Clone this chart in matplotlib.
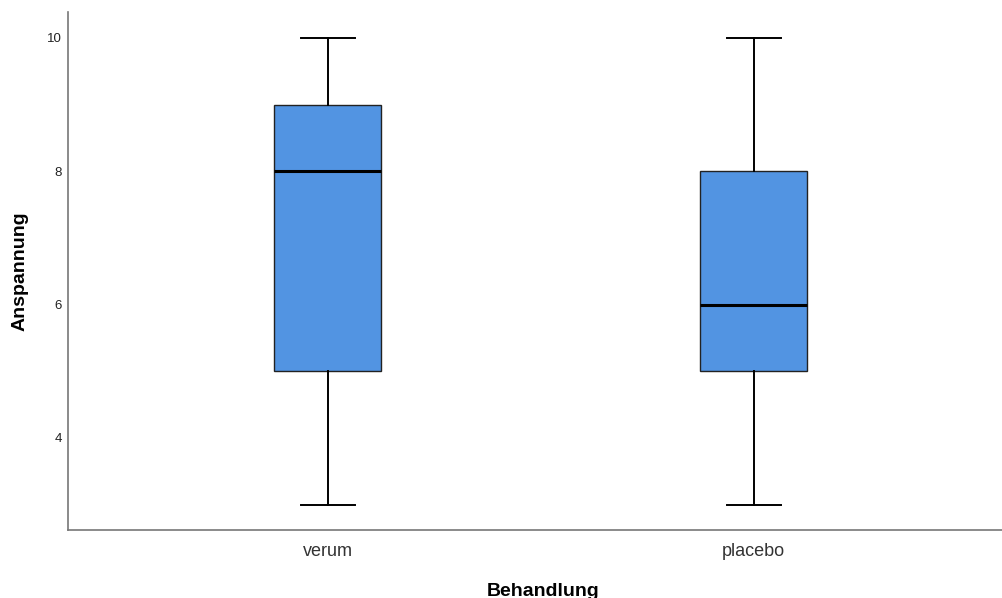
import matplotlib
matplotlib.use("Agg")
import matplotlib.pyplot as plt

plt.rcParams['font.family'] = ['Liberation Sans', 'DejaVu Sans']

# Boxplot-Kennwerte je Gruppe
groups = ["verum", "placebo"]
whislo = [3, 3]
q1 = [5, 5]
med = [8, 6]
q3 = [9, 8]
whishi = [10, 10]

stats = []
for i, g in enumerate(groups):
    stats.append(dict(label=g, whislo=whislo[i], q1=q1[i], med=med[i],
                      q3=q3[i], whishi=whishi[i], fliers=[]))

fig = plt.figure(figsize=(10.03, 5.98), dpi=100)
ax = fig.add_axes([0.0678, 0.1137, 0.9322, 0.8663])

ax.bxp(stats, positions=[0, 1], widths=0.251, patch_artist=True,
       showfliers=False,
       boxprops=dict(facecolor='#5294e2', edgecolor='#222222', linewidth=1.0),
       medianprops=dict(color='black', linewidth=2.2),
       whiskerprops=dict(color='black', linewidth=1.4),
       capprops=dict(color='black', linewidth=1.4),
       capwidths=0.127)

ax.set_xlim(-0.610, 1.585)
ax.set_ylim(2.62, 10.39)
ax.set_yticks([4, 6, 8, 10])
ax.tick_params(axis='both', length=0)
ax.tick_params(axis='y', labelsize=9.5, pad=4.5, labelcolor='#222222')
ax.tick_params(axis='x', labelsize=13, pad=9, labelcolor='#333333')

for s in ['top', 'right']:
    ax.spines[s].set_visible(False)
for s in ['left', 'bottom']:
    ax.spines[s].set_color('#777777')
    ax.spines[s].set_linewidth(1.2)

fig.text(0.020, 1 - 271 / 598, "Anspannung", rotation=90, fontsize=14,
         fontweight='bold', ha='center', va='center')
fig.text(0.5413, 1 - 591 / 598, "Behandlung", fontsize=14,
         fontweight='bold', ha='center', va='center')

fig.savefig("out.png", dpi=100)
